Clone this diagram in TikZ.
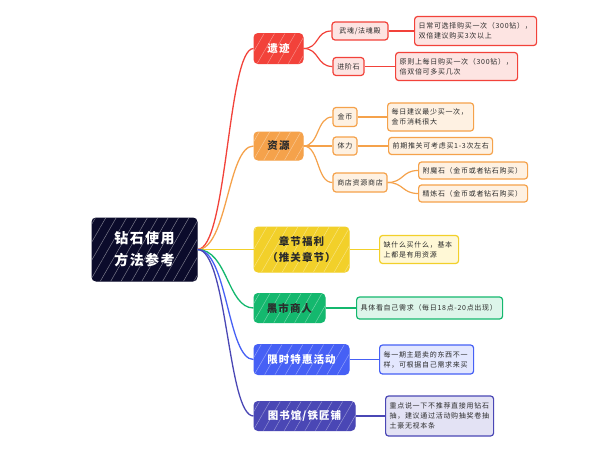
\documentclass[tikz,border=0pt]{standalone}
\usepackage{fontspec}
\newfontfamily\cjk[LetterSpace=10]{Noto Sans CJK SC}
\usetikzlibrary{patterns.meta}
\definecolor{rootc}{HTML}{0B0B2B}
\definecolor{rc}{HTML}{F2423A}
\definecolor{rl}{HTML}{FDE4E2}
\definecolor{oc}{HTML}{F5A24B}
\definecolor{ol}{HTML}{FEF1E2}
\definecolor{yc}{HTML}{F2D02A}
\definecolor{yl}{HTML}{FFF8D6}
\definecolor{gc}{HTML}{14B86E}
\definecolor{gl}{HTML}{DDF5EA}
\definecolor{bc}{HTML}{4660F5}
\definecolor{bl}{HTML}{E3E7FE}
\definecolor{ic}{HTML}{4A47B5}
\definecolor{il}{HTML}{E3E2F4}
\definecolor{dtext}{HTML}{2B2B2B}
\tikzset{
  hatch/.style={postaction={pattern={Lines[angle=60,distance=9pt,line width=0.5pt]}, pattern color=#1}},
  rootbox/.style={rounded corners=4pt, fill=rootc, draw=rootc, line width=1pt, text=white, align=center, inner sep=0pt,
    font=\cjk\bfseries\fontsize{14}{22}\selectfont, minimum width=105pt, minimum height=63pt, hatch=rootc!55!white},
  branch/.style={rounded corners=4pt, fill=#1, draw=#1, line width=1pt, align=center, inner sep=0pt,
    font=\cjk\bfseries\fontsize{10.5}{16}\selectfont, hatch=#1!60!white},
  child/.style 2 args={rounded corners=3pt, fill=#2, draw=#1, line width=1.2pt, align=center, inner sep=0pt,
    text=dtext, font=\cjk\fontsize{7}{10}\selectfont},
  leaf/.style 2 args={rounded corners=3pt, fill=#2, draw=#1, line width=1.2pt, align=left, inner xsep=4pt, inner ysep=0pt,
    text=dtext, font=\cjk\fontsize{7}{10}\selectfont, anchor=west},
  sz/.style 2 args={minimum width=#1pt, minimum height=#2pt},
  conn/.style={draw=#1, line width=1.3pt},
  subc/.style={draw=#1, line width=1.2pt}
}
\begin{document}
\begin{tikzpicture}[x=1pt,y=-1pt]
\useasboundingbox (0,0) rectangle (600,455);
\fill[white] (0,0) rectangle (600,455);

% root
\node[rootbox] (root) at (144.5,249.5) {钻石使用\\方法参考};

% branches
\node[branch=rc, text=white, sz={49}{30}] (b1) at (278.5,48.5) {遗迹};
\node[branch=oc, text=dtext, sz={49}{28}] (b2) at (278.5,146) {资源};
\node[branch=yc, text=dtext, sz={95}{45}] (b3) at (301.5,249.5) {章节福利\\（推关章节）};
\node[branch=gc, text=dtext, sz={71}{29}] (b4) at (289.5,308) {黑市商人};
\node[branch=bc, text=white, sz={95}{30}] (b5) at (301.5,359.5) {限时特惠活动};
\node[branch=ic, text=white, sz={101}{29}] (b6) at (304.5,416) {图书馆/铁匠铺};

% children
\node[child={rc}{rl}, sz={56}{18}] (c11) at (360,31) {武魂/法魂殿};
\node[child={rc}{rl}, sz={31}{18}] (c12) at (348.5,66.5) {进阶石};
\node[child={oc}{ol}, sz={24}{19}] (c21) at (345,117) {金币};
\node[child={oc}{ol}, sz={24}{18}] (c22) at (345,146) {体力};
\node[child={oc}{ol}, sz={54}{19}] (c23) at (360,182.5) {商店资源商店};

% leaves
\node[leaf={rc}{rl}, text width=114pt, minimum height=29pt] (l11) at (414,31) {日常可选择购买一次（300钻），\\双倍建议购买3次以上};
\node[leaf={rc}{rl}, text width=114pt, minimum height=28pt] (l12) at (395,66.5) {原则上每日购买一次（300钻），\\倍双倍可多买几次};
\node[leaf={oc}{ol}, text width=78pt, minimum height=28pt] (l21) at (387,117) {每日建议最少买一次，\\金币消耗很大};
\node[leaf={oc}{ol}, text width=96pt, minimum height=17pt] (l22) at (388,146) {前期推关可考虑买1-3次左右};
\node[leaf={oc}{ol}, text width=101pt, minimum height=17pt] (l23) at (418,170.5) {附魔石（金币或者钻石购买）};
\node[leaf={oc}{ol}, text width=101pt, minimum height=17pt] (l24) at (418,193.5) {精炼石（金币或者钻石购买）};
\node[leaf={yc}{yl}, text width=71pt, minimum height=28pt] (l31) at (379,249.5) {缺什么买什么，基本\\上都是有用资源};
\node[leaf={gc}{gl}, text width=138pt, minimum height=22pt] (l41) at (356,308) {具体看自己需求（每日18点-20点出现）};
\node[leaf={bc}{bl}, text width=86pt, minimum height=29pt] (l51) at (379,359.5) {每一期主题卖的东西不一\\样，可根据自己需求来买};
\node[leaf={ic}{il}, text width=100pt, minimum height=40pt] (l61) at (385,416) {重点说一下不推荐直接用钻石\\抽，建议通过活动购抽奖卷抽\\土豪无视本条};

% root connectors
\draw[conn=rc] (root.east) .. controls +(30,0) and +(-26,0) .. (b1.west);
\draw[conn=oc] (root.east) .. controls +(30,0) and +(-26,0) .. (b2.west);
\draw[conn=yc] (root.east) -- (b3.west);
\draw[conn=gc] (root.east) .. controls +(30,0) and +(-26,0) .. (b4.west);
\draw[conn=bc] (root.east) .. controls +(30,0) and +(-26,0) .. (b5.west);
\draw[conn=ic] (root.east) .. controls +(30,0) and +(-26,0) .. (b6.west);

% branch to child
\draw[subc=rc] (b1.east) .. controls +(16,0) and +(-16,0) .. (c11.west);
\draw[subc=rc] (b1.east) .. controls +(16,0) and +(-16,0) .. (c12.west);
\draw[subc=oc] (b2.east) .. controls +(16,0) and +(-16,0) .. (c21.west);
\draw[subc=oc] (b2.east) -- (c22.west);
\draw[subc=oc] (b2.east) .. controls +(16,0) and +(-16,0) .. (c23.west);
\draw[subc=oc] (c23.east) .. controls +(16,0) and +(-16,0) .. (l23.west);
\draw[subc=oc] (c23.east) .. controls +(16,0) and +(-16,0) .. (l24.west);

% straight links
\draw[subc=rc] (c11.east) -- (l11.west);
\draw[subc=rc] (c12.east) -- (l12.west);
\draw[subc=oc] (c21.east) -- (l21.west);
\draw[subc=oc] (c22.east) -- (l22.west);
\draw[subc=yc] (b3.east) -- (l31.west);
\draw[subc=gc] (b4.east) -- (l41.west);
\draw[subc=bc] (b5.east) -- (l51.west);
\draw[subc=ic] (b6.east) -- (l61.west);
\end{tikzpicture}
\end{document}
